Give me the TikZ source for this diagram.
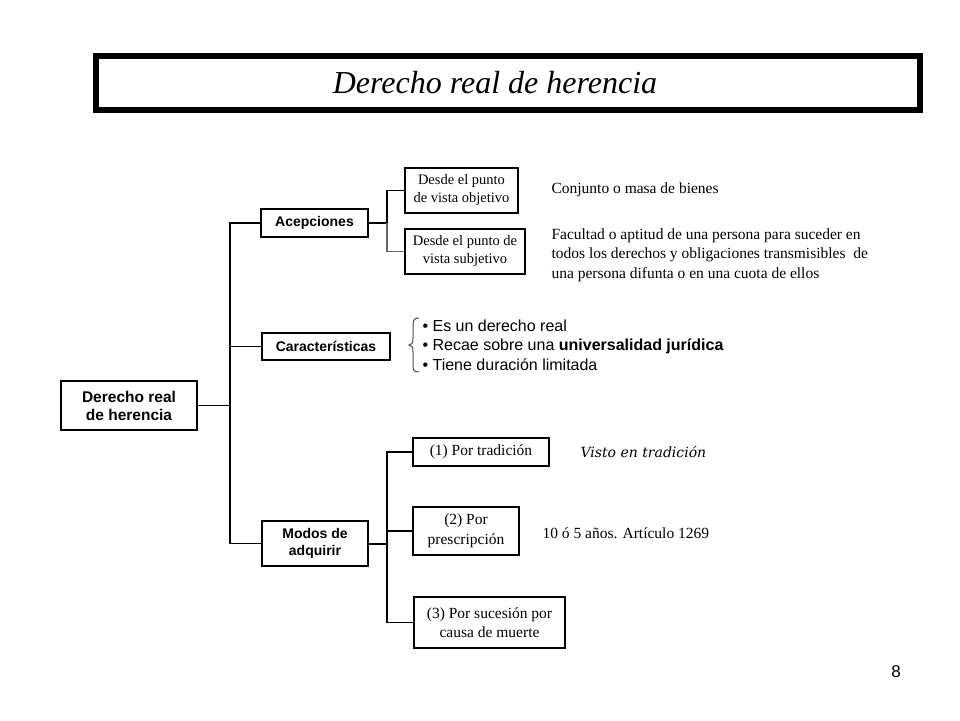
\documentclass[tikz,border=0pt]{standalone}
\usepackage{fontspec}
\setmainfont{Liberation Serif}
\setsansfont{Liberation Sans}
\newfontfamily\vistofont{DejaVu Serif}
\begin{document}
\begin{tikzpicture}[x=1pt,y=-1pt,
  line width=1.1pt,
  boxs/.style={draw=black,line width=1.1pt,inner sep=0pt,font=\sffamily\bfseries\fontsize{14}{16.5}\selectfont,align=center,anchor=center},
  boxr/.style={draw=black,line width=1.1pt,inner sep=0pt,font=\fontsize{15.5}{18.5}\selectfont,align=center,anchor=center},
  txt/.style={inner sep=0pt,anchor=west,align=left,font=\fontsize{15.5}{19.5}\selectfont},
  link/.style={draw=black,line width=1.1pt},
  glink/.style={draw=black!60,line width=1.3pt}]
\useasboundingbox (0,0) rectangle (960,720);
\fill[white] (0,0) rectangle (960,720);
% title
\draw[line width=6pt] (96,56) rectangle (920,110);
\node[inner sep=0pt,font=\itshape\fontsize{32}{36}\selectfont] (title) at (495,83) {Derecho real de herencia};
% main nodes
\node[boxs,minimum width=136pt,minimum height=49pt,font=\sffamily\bfseries\fontsize{15.5}{18}\selectfont] (root) at (129,405.5) {Derecho real\\de herencia};
\node[boxs,minimum width=107pt,minimum height=28pt] (acep) at (314.5,223) {Acepciones};
\node[boxs,minimum width=128pt,minimum height=27pt] (carac) at (326,346.5) {Características};
\node[boxs,minimum width=106pt,minimum height=45pt] (modos) at (315,543.5) {Modos de\\adquirir};
% acepciones children
\node[boxr,minimum width=113pt,minimum height=45pt,font=\fontsize{14.5}{18}\selectfont] (obj) at (461.5,190.5) {Desde el punto\\de vista objetivo};
\node[boxr,minimum width=120pt,minimum height=45pt,font=\fontsize{14.5}{18}\selectfont] (sub) at (465,251.5) {Desde el punto de\\vista subjetivo};
% modos children
\node[boxr,minimum width=136pt,minimum height=28pt] (t1) at (481,452) {(1) Por tradición};
\node[boxr,minimum width=106pt,minimum height=48pt,font=\fontsize{15.5}{19.5}\selectfont] (t2) at (466,531) {(2) Por\\prescripción};
\node[boxr,minimum width=151pt,minimum height=51pt,font=\fontsize{15.5}{19.5}\selectfont] (t3) at (489.5,622.5) {(3) Por sucesión por\\causa de muerte};
% trunk
\coordinate (trunk) at (230,0);
\draw[link] (acep.west) -| (trunk |- modos.west) -- (modos.west);
\draw[link] (carac.west) -- (trunk |- carac.west);
\draw[link] (root.east) -- (trunk |- root.east);
% acepciones bracket
\coordinate (j1) at (387,0);
\draw[link] (acep.east) -- (j1 |- acep.east);
\draw[link] (obj.west) -| (j1 |- acep.east);
\draw[glink] (j1 |- acep.east) |- (sub.west);
% modos bracket
\coordinate (j2) at (387,0);
\draw[link] (t1.west) -| (j2 |- t3.west) -- (t3.west);
\draw[link] (t2.west) -- (j2 |- t2.west);
\draw[draw=black,line width=2pt] (modos.east) -- (j2 |- modos.east);
% texts
\node[txt] (conj) at (551,190) {Conjunto o masa de bienes};
\node[txt] (fac) at (551,255) {Facultad o aptitud de una persona para suceder en\\todos los derechos y obligaciones transmisibles \ de\\una persona difunta o en una cuota de ellos};
\node[txt,font=\sffamily\fontsize{16}{19.5}\selectfont] (bul) at (422,345) {• Es un derecho real\\• Recae sobre una \textbf{universalidad jurídica}\\• Tiene duración limitada};
\draw[line width=1pt,draw=black!70] (419,318) .. controls (413,318) and (413,321) .. (413,328) -- (413,338) .. controls (413,343) and (412,345) .. (409,345) .. controls (412,345) and (413,347) .. (413,352) -- (413,363) .. controls (413,370) and (413,372) .. (419,372);
\node[txt,font=\vistofont\itshape\fontsize{14}{16}\selectfont] (visto) at (580,452) {Visto en tradición};
\node[txt] (art) at (542,533) {10 ó 5 años. Artículo 1269};
\node[inner sep=0pt,font=\sffamily\fontsize{17}{20}\selectfont] (page) at (896,672) {8};
\end{tikzpicture}
\end{document}
